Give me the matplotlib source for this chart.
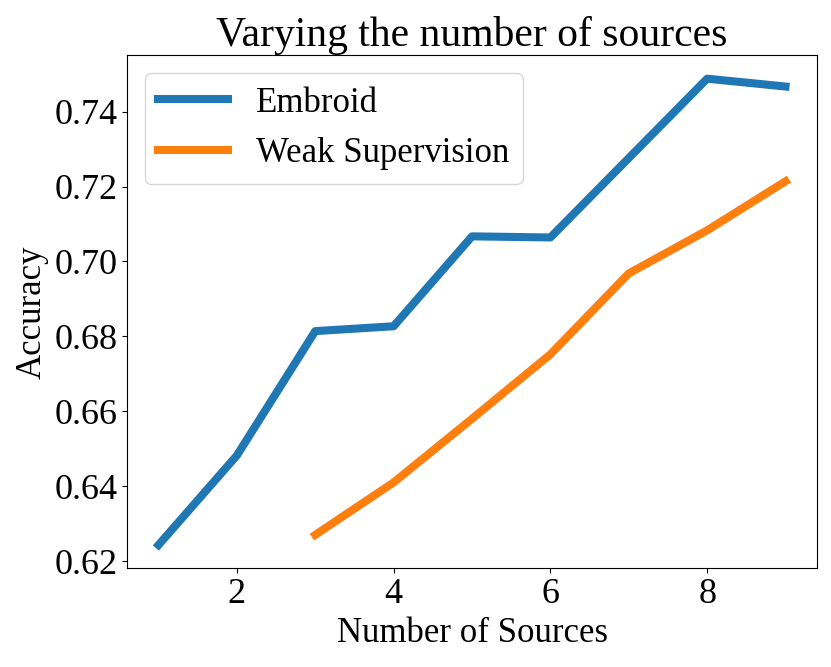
import numpy as np
import matplotlib.pyplot as plt

plt.rcParams['font.family'] = ['Liberation Serif', 'DejaVu Serif']

# number of sources
sources_embroid = [1, 2, 3, 4, 5, 6, 7, 8, 9]
acc_embroid = [0.6243, 0.6482, 0.6814, 0.6827, 0.7067, 0.7064, 0.7276, 0.7488, 0.7467]

sources_ws = [3, 4, 5, 6, 7, 8, 9]
acc_ws = [0.6270, 0.6410, 0.6580, 0.6752, 0.6968, 0.7083, 0.7214]

fig, ax = plt.subplots(figsize=(8.31, 6.67), dpi=100)
fig.subplots_adjust(left=0.153, right=0.983, top=0.917, bottom=0.148)

ax.plot(sources_embroid, acc_embroid, label='Embroid', color='#1f77b4', linewidth=5.8)
ax.plot(sources_ws, acc_ws, label='Weak Supervision', color='#ff7f0e', linewidth=5.8)

ax.set_title('Varying the number of sources', fontsize=30)
ax.set_xlabel('Number of Sources', fontsize=25)
ax.set_ylabel('Accuracy', fontsize=25)
ax.set_xticks([2, 4, 6, 8])
ax.set_yticks(np.arange(0.62, 0.7401, 0.02))
ax.tick_params(labelsize=26)
ax.legend(loc='upper left', fontsize=25)

plt.savefig('out.png')
